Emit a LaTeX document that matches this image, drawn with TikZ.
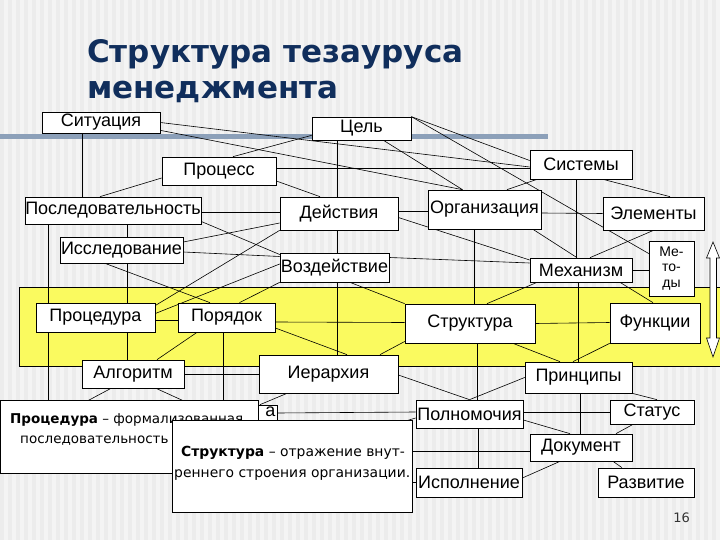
\documentclass[tikz,border=0pt]{standalone}
\usepackage{fontspec}
\setmainfont{Liberation Sans}
\newfontfamily\titlefont{DejaVu Sans}
\newfontfamily\tbfont{DejaVu Sans}
\usetikzlibrary{calc}
\pgfdeclarelayer{bottom}
\pgfdeclarelayer{lines}
\pgfsetlayers{bottom,lines,main}
\definecolor{titleblue}{RGB}{16,46,92}
\definecolor{bandyellow}{RGB}{250,250,95}
\definecolor{bgg}{RGB}{244,244,244}
\definecolor{stripe}{RGB}{236,236,236}
\definecolor{barblue}{RGB}{140,160,185}
\begin{document}
\begin{tikzpicture}[x=1pt,y=-1pt,
  box/.style={draw=black,fill=white,inner sep=0pt,line width=0.7pt,font=\fontsize{18}{20}\selectfont},
  conn/.style={black,line width=0.6pt},
  tbox/.style={draw=black,fill=white,line width=0.8pt,inner sep=0pt},
  tbtext/.style={font=\tbfont\fontsize{13.5}{16}\selectfont,inner sep=0pt,anchor=base west},
  tbtextb/.style={font=\tbfont\fontsize{13.9}{17}\selectfont,inner sep=0pt,anchor=base west}]
\useasboundingbox (0,0) rectangle (720,540);
\begin{pgfonlayer}{bottom}
  \fill[bgg] (0,0) rectangle (720,540);
  \foreach \i in {0,8,...,720} {\fill[stripe] (\i,0) rectangle ++(4,540);}
  \fill[barblue] (0,134) rectangle (548,139);
  \filldraw[fill=bandyellow,draw=black,line width=0.6pt] (19,287) rectangle (725,366);
\end{pgfonlayer}

% title
\node[anchor=base west,inner sep=0pt,text=titleblue,font=\titlefont\bfseries\fontsize{31}{36}\selectfont] (t1) at (87,63) {Структура тезауруса};
\node[anchor=base west,inner sep=0pt,text=titleblue,font=\titlefont\bfseries\fontsize{31}{36}\selectfont] (t2) at (87,99) {менеджмента};

% nodes
\node[box,minimum width=118pt,minimum height=21pt] (sit) at (101,122.5) {Ситуация};
\node[box,minimum width=99pt,minimum height=23pt] (cel) at (361.5,128.5) {Цель};
\node[box,minimum width=114pt,minimum height=28pt] (proc) at (219,171) {Процесс};
\node[box,minimum width=102pt,minimum height=29pt] (sys) at (581,164.5) {Системы};
\node[box,minimum width=176pt,minimum height=27pt] (posl) at (113,210.5) {Последовательность};
\node[box,minimum width=118pt,minimum height=33pt] (dei) at (339,213.5) {Действия};
\node[box,minimum width=113pt,minimum height=39pt] (org) at (484.5,209.5) {Организация};
\node[box,minimum width=101pt,minimum height=33pt] (elem) at (653.5,213.5) {Элементы};
\node[box,minimum width=123pt,minimum height=26pt] (issl) at (121.5,250) {Исследование};
\node[box,minimum width=109pt,minimum height=29pt] (vozd) at (334.5,267.5) {Воздействие};
\node[box,minimum width=102pt,minimum height=24pt] (mech) at (581,270) {Механизм};
\node[box,minimum width=45pt,minimum height=55pt,align=center,font=\fontsize{14}{15.5}\selectfont] (met) at (671.5,268.5) {Ме-\\то-\\ды};
\node[box,minimum width=119pt,minimum height=29pt] (procd) at (95.5,317.5) {Процедура};
\node[box,minimum width=97pt,minimum height=29pt] (por) at (226.5,317.5) {Порядок};
\node[box,minimum width=130pt,minimum height=39pt] (str) at (470,323.5) {Структура};
\node[box,minimum width=90pt,minimum height=40pt] (fun) at (655,323) {Функции};
\node[box,minimum width=102pt,minimum height=28pt] (alg) at (133,374) {Алгоритм};
\node[box,minimum width=139pt,minimum height=38pt] (ier) at (328.5,374) {Иерархия};
\node[box,minimum width=107pt,minimum height=31pt] (prin) at (578.5,377.5) {Принципы};
\node[box,minimum width=107pt,minimum height=28pt] (poln) at (469.5,414) {Полномочия};
\node[box,minimum width=84pt,minimum height=24pt] (stat) at (652,412) {Статус};
\node[box,minimum width=102pt,minimum height=27pt] (doc) at (581,447.5) {Документ};
\node[box,minimum width=106pt,minimum height=29pt] (isp) at (469,482.5) {Исполнение};
\node[box,minimum width=96pt,minimum height=29pt] (razv) at (646,482.5) {Развитие};

% hidden node under the first text box
\node[box,minimum width=47pt,minimum height=16pt] (hid) at (253.5,413) {};
\node[anchor=east,inner sep=0pt,font=\fontsize{18}{20}\selectfont] (hidt) at (275.5,412) {а};

% double arrow
\filldraw[fill=white,draw=black,line width=0.6pt] (713,242) -- (719.5,258) -- (716.5,258) -- (716.5,338) -- (719.5,338) -- (713,357) -- (706.5,338) -- (710,338) -- (710,258) -- (706.5,258) -- cycle;

% connectors
\begin{pgfonlayer}{lines}
\draw[conn] ([xshift=-19pt]sit.south) -- ([xshift=-31pt]posl.north);
\draw[conn] (sit.east) -- ([yshift=-2.5pt]sys.west);
\draw[conn] ([yshift=3pt]sit.south east) -- ([xshift=-22pt]org.north);
\draw[conn] ([yshift=5pt]cel.south west) -- ([xshift=14pt]proc.north);
\draw[conn] ([xshift=-24.5pt]cel.south) -- ([xshift=-2pt]dei.north);
\draw[conn] ([xshift=-2pt]dei.south) -- ([xshift=2.5pt]vozd.north);
\draw[conn] ([xshift=2.5pt]vozd.south) -- ([xshift=8.5pt]ier.north);
\draw[conn] (cel.north east) -- ([yshift=4pt]sys.west);
\draw[conn] (cel.north east) -- ([yshift=15pt]met.west);
\draw[conn] ([xshift=22pt]cel.south) -- ([xshift=-22pt]org.north);
\draw[conn] ([yshift=3pt]proc.east) -- ([yshift=-3.5pt]sys.west);
\draw[conn] ([yshift=-10pt]proc.east) -- ([xshift=-19pt]dei.north);
\draw[conn] ([yshift=-7pt]proc.west) -- ([xshift=-13pt]posl.north);
\draw[conn] ([xshift=-44pt]sys.south) -- ([xshift=22.5pt]org.north);
\draw[conn] ([xshift=-5pt]sys.south) -- ([xshift=-5pt]mech.north);
\draw[conn] ([xshift=22pt]sys.south) -- ([xshift=16.5pt]elem.north);
\draw[conn] ([yshift=-1.5pt]posl.east) -- ([yshift=1.5pt]dei.west);
\draw[conn] ([yshift=-11pt]posl.east) -- ([yshift=13pt]vozd.west);
\draw[conn] ([xshift=14pt]posl.south) -- ([xshift=5.5pt]issl.north);
\draw[conn] ([xshift=-65pt]posl.south) -- ([xshift=-47.5pt]procd.north);
\draw[conn] ([yshift=8pt]issl.east) -- ([yshift=-9.5pt]dei.west);
\draw[conn] ([yshift=-2pt]issl.east) -- ([yshift=11pt]vozd.west);
\draw[conn] ([xshift=5.5pt]issl.south) -- ([xshift=31.5pt]procd.north);
\draw[conn] ([xshift=-16.5pt]issl.south) -- ([xshift=-16.5pt]por.north);
\draw[conn] ([yshift=12pt]procd.east) -- (dei.south west);
\draw[conn] ([yshift=4pt]procd.east) -- ([yshift=3.5pt]vozd.west);
\draw[conn] ([yshift=-2.5pt]procd.east) -- ([yshift=-2.5pt]por.west);
\draw[conn] ([xshift=31.5pt]procd.south) -- ([xshift=-6pt]alg.north);
\draw[conn] ([xshift=-47.5pt]procd.south) -- ([xshift=-47.5pt]procd.south |- hid.north);
\draw[conn] ([xshift=13pt]por.north) -- (vozd.south west);
\draw[conn] ([xshift=-29.5pt]por.south) -- ([xshift=24pt]alg.north);
\draw[conn] ([xshift=-3.5pt]por.south) -- ([xshift=-3.5pt]por.south |- hid.north);
\draw[conn] ([yshift=-4.5pt]por.east) -- ([yshift=1pt]str.west);
\draw[conn] ([yshift=-10.5pt]por.east) -- ([xshift=18.5pt]ier.north);
\draw[conn] (alg.east) -- (ier.west);
\draw[conn] ([xshift=-22pt]alg.south) -- ([xshift=-22pt,yshift=-20pt]alg.south -| procd.south);
\draw[conn] ([xshift=23pt]alg.south) -- ([xshift=67pt,yshift=-20pt]alg.south);
\draw[conn] ([xshift=51.5pt]ier.north) -- ([yshift=-18pt]str.west);
\draw[conn] ([xshift=-41.5pt]ier.south) -- ([xshift=6.5pt]hid.north);
\draw[conn] (hid.east) -- ([yshift=2pt]poln.west);
\draw[conn] ([yshift=-1pt]ier.east) -- (poln.north);
\draw[conn] (prin.west) -- (poln.north);
\draw[conn] ([xshift=7pt]str.south) -- ([xshift=7.5pt]poln.north);
\draw[conn] ([xshift=43pt]str.south) -- ([xshift=-18.5pt]prin.north);
\draw[conn] (str.east) -- ([yshift=0.5pt]fun.west);
\draw[conn] ([xshift=-10.5pt]org.south) -- ([xshift=4pt]str.north);
\draw[conn] ([xshift=48.5pt]org.south) -- ([xshift=-4pt]mech.north);
\draw[conn] ([yshift=-3.5pt]org.east) -- (elem.west);
\draw[conn] ([yshift=2pt]dei.east) -- ([yshift=-2pt]org.west);
\draw[conn] ([yshift=-4pt]dei.east) -- ([yshift=10pt]mech.west);
\draw[conn] ([yshift=10pt]vozd.east) -- ([yshift=7pt]mech.west);
\draw[conn] ([xshift=15.5pt]vozd.south) -- (str.north west);
\draw[conn] (elem.south) -- ([xshift=9pt]mech.north);
\draw[conn] (mech.east) -- (mech.east -| met.west);
\draw[conn] ([xshift=-44pt]mech.south) -- ([xshift=17pt]str.north);
\draw[conn] ([xshift=-3pt]mech.south) -- ([xshift=-0.5pt]prin.north);
\draw[conn] ([xshift=39pt]mech.south) -- ([xshift=-2pt]fun.north);
\draw[conn] (fun.south west) -- ([xshift=-5.5pt]prin.north);
\draw[conn] (prin.south east) -- ([xshift=5pt]stat.north);
\draw[conn] ([xshift=1.5pt]prin.south) -- ([xshift=-1pt]doc.north);
\draw[conn] ([yshift=2pt]poln.east) -- (stat.west);
\draw[conn] ([yshift=-6pt]poln.east) -- ([xshift=-11pt]doc.north);
\draw[conn] ([xshift=-19pt]stat.south) -- ([xshift=35pt]doc.north);
\draw[conn] ([xshift=8.5pt]poln.south) -- ([xshift=9pt]isp.north);
\draw[conn] ([yshift=4.5pt]isp.east) -- ([xshift=-21pt]doc.south);
\draw[conn] ([xshift=32pt]doc.south) -- ([xshift=-24pt]razv.north);
\draw[conn] ([yshift=-4pt]doc.west) -- ([yshift=-4pt]doc.west -| hid.east);
\draw[conn] ([yshift=-4pt]poln.west) -- ([xshift=-50pt,yshift=-19pt]poln.west);
\draw[conn] (isp.west) -- ([xshift=-30pt]isp.west);
\end{pgfonlayer}

% text boxes
\node[tbox,minimum width=258pt,minimum height=73pt] (tb1) at (129,436.5) {};
\node[tbtext] (tb1a) at (10,423) {\textbf{Процедура} – формализованная};
\node[tbtext] (tb1b) at (20,443) {последовательность};
\node[tbox,minimum width=240pt,minimum height=92pt] (tb2) at (292,466) {};
\node[tbtextb] (tb2a) at (181,456) {\textbf{Структура} – отражение внут-};
\node[tbtextb] (tb2b) at (174,477) {реннего строения организации.};

\node[anchor=base east,inner sep=0pt,font=\tbfont\fontsize{13}{15}\selectfont,text=black!80] (pg) at (690,522) {16};
\end{tikzpicture}
\end{document}
